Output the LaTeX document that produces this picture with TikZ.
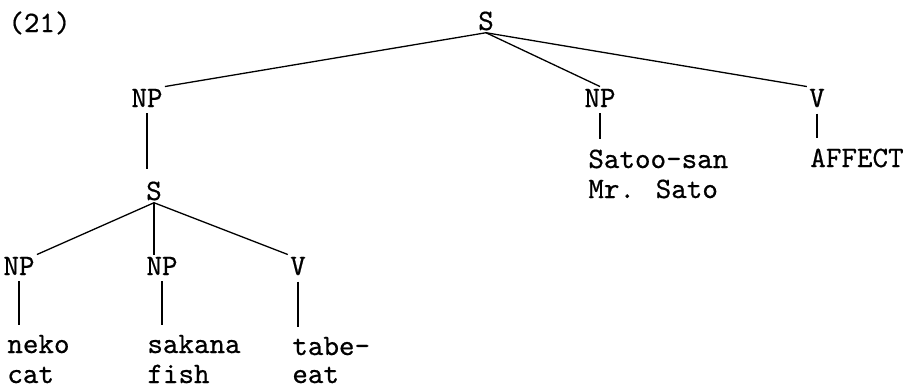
\documentclass[tikz,border=0pt]{standalone}
\usepackage{fontspec}
\usepackage{tikz}
\newfontfamily\typewr[FakeBold=0.6]{lmmono10-regular.otf}

\begin{document}
\begin{tikzpicture}[x=0.5pt,y=-0.5pt,
    cnode/.style={font=\fontsize{14.8}{17}\typewr, inner sep=1pt, anchor=base},
    leaf/.style={font=\fontsize{14.8}{17}\typewr, inner sep=0pt, anchor=base west},
    branch/.style={line width=0.65pt},
    stem/.style={line width=0.65pt, shorten <=2pt, shorten >=5pt}]
  \useasboundingbox (0,0) rectangle (907,388);
  % numero del ejemplo
  \node[leaf] (ex) at (8,32) {(21)};
  % oracion principal
  \node[cnode] (S0) at (486,30) {S};
  \node[cnode] (NP1) at (147,107) {NP};
  \node[cnode] (NP2) at (600,107) {NP};
  \node[cnode] (V1) at (817,107) {V};
  \draw[branch] (S0.south) -- (NP1.north east);
  \draw[branch] (S0.south) -- (NP2.north);
  \draw[branch] (S0.south) -- (V1.north west);
  \node[leaf] (satoo) at (588,168) {Satoo-san};
  \node[leaf] (sato) at (588,198) {Mr. Sato};
  \node[leaf] (affect) at (810,167) {AFFECT};
  \draw[stem] (NP2.south) -- (NP2.south |- satoo.north);
  \draw[stem] (V1.south) -- (V1.south |- affect.north);
  % oracion incrustada
  \node[cnode] (S1) at (154,200) {S};
  \draw[stem] (NP1.south) -- (NP1.south |- S1.north);
  \node[cnode] (NP3) at (19,275) {NP};
  \node[cnode] (NP4) at (162,275) {NP};
  \node[cnode] (V2) at (298,275) {V};
  \draw[branch] (S1.south) -- (NP3.north east);
  \draw[branch] (S1.south) -- (S1.south |- NP4.north);
  \draw[branch] (S1.south) -- (V2.north west);
  % hojas con glosa
  \node[leaf] (neko) at (7,353) {neko};
  \node[leaf] (cat) at (7,383) {cat};
  \node[leaf] (sakana) at (147,353) {sakana};
  \node[leaf] (fish) at (147,383) {fish};
  \node[leaf] (tabe) at (292,355) {tabe-};
  \node[leaf] (eat) at (292,383) {eat};
  \draw[stem] (NP3.south) -- (NP3.south |- neko.north);
  \draw[stem] (NP4.south) -- (NP4.south |- sakana.north);
  \draw[stem] (V2.south) -- (V2.south |- tabe.north);
\end{tikzpicture}
\end{document}
